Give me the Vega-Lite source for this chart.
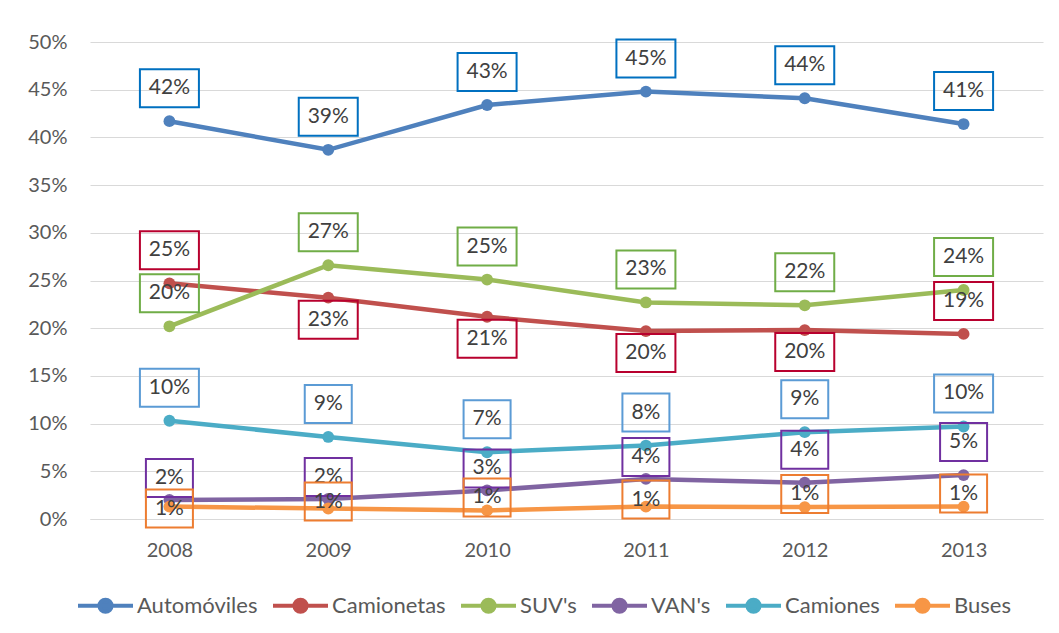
{
  "$schema": "https://vega.github.io/schema/vega-lite/v6.json",
  "width": 953,
  "height": 477,
  "autosize": "none",
  "padding": {"left": 90, "top": 42, "right": 16, "bottom": 114},
  "background": "white",
  "config": {
    "font": "Lato",
    "view": {"stroke": null},
    "text": {"font": "Lato"}
  },
  "data": {
    "values": [
      {"s": "Automóviles", "year": "2008", "v": 0.417},
      {"s": "Automóviles", "year": "2009", "v": 0.387},
      {"s": "Automóviles", "year": "2010", "v": 0.434},
      {"s": "Automóviles", "year": "2011", "v": 0.448},
      {"s": "Automóviles", "year": "2012", "v": 0.441},
      {"s": "Automóviles", "year": "2013", "v": 0.414},
      {"s": "Camionetas", "year": "2008", "v": 0.247},
      {"s": "Camionetas", "year": "2009", "v": 0.232},
      {"s": "Camionetas", "year": "2010", "v": 0.212},
      {"s": "Camionetas", "year": "2011", "v": 0.197},
      {"s": "Camionetas", "year": "2012", "v": 0.198},
      {"s": "Camionetas", "year": "2013", "v": 0.194},
      {"s": "SUV's", "year": "2008", "v": 0.202},
      {"s": "SUV's", "year": "2009", "v": 0.266},
      {"s": "SUV's", "year": "2010", "v": 0.251},
      {"s": "SUV's", "year": "2011", "v": 0.227},
      {"s": "SUV's", "year": "2012", "v": 0.224},
      {"s": "SUV's", "year": "2013", "v": 0.240},
      {"s": "VAN's", "year": "2008", "v": 0.020},
      {"s": "VAN's", "year": "2009", "v": 0.021},
      {"s": "VAN's", "year": "2010", "v": 0.030},
      {"s": "VAN's", "year": "2011", "v": 0.042},
      {"s": "VAN's", "year": "2012", "v": 0.038},
      {"s": "VAN's", "year": "2013", "v": 0.046},
      {"s": "Camiones", "year": "2008", "v": 0.103},
      {"s": "Camiones", "year": "2009", "v": 0.086},
      {"s": "Camiones", "year": "2010", "v": 0.070},
      {"s": "Camiones", "year": "2011", "v": 0.077},
      {"s": "Camiones", "year": "2012", "v": 0.091},
      {"s": "Camiones", "year": "2013", "v": 0.097},
      {"s": "Buses", "year": "2008", "v": 0.013},
      {"s": "Buses", "year": "2009", "v": 0.011},
      {"s": "Buses", "year": "2010", "v": 0.009},
      {"s": "Buses", "year": "2011", "v": 0.013},
      {"s": "Buses", "year": "2012", "v": 0.0125},
      {"s": "Buses", "year": "2013", "v": 0.013}
    ]
  },
  "encoding": {
    "x": {
      "field": "year", "type": "ordinal",
      "scale": {"type": "point", "padding": 0.5},
      "axis": {"title": null, "labelAngle": 0, "ticks": false, "grid": false,
        "domainColor": "#D9D9D9", "domainWidth": 1,
        "labelFont": "Lato", "labelFontSize": 20, "labelColor": "#595959", "labelPadding": 21}
    },
    "y": {
      "field": "v", "type": "quantitative",
      "scale": {"domain": [0, 0.5], "nice": false, "zero": true},
      "axis": {"title": null, "values": [0, 0.05, 0.1, 0.15, 0.2, 0.25, 0.3, 0.35, 0.4, 0.45, 0.5],
        "format": ".0%", "ticks": false, "domain": false,
        "gridColor": "#D9D9D9", "gridWidth": 1,
        "labelFont": "Lato", "labelFontSize": 20, "labelColor": "#595959", "labelPadding": 23}
    }
  },
  "layer": [
    {
      "mark": {"type": "line", "strokeWidth": 4.5},
      "encoding": {
        "color": {
          "field": "s", "type": "nominal",
          "scale": {"domain": ["Automóviles", "Camionetas", "SUV's", "VAN's", "Camiones", "Buses"],
            "range": ["#4F81BD", "#C0504D", "#9BBB59", "#8064A2", "#4BACC6", "#F79646"]},
          "legend": {
            "orient": "none", "legendX": -14, "legendY": 534, "direction": "horizontal",
            "title": null, "padding": 0,
            "symbolType": "M-1,0H1M0.22,0A0.22,0.22 0 1,1 -0.22,0A0.22,0.22 0 1,1 0.22,0Z",
            "symbolSize": 3025, "symbolStrokeWidth": 4,
            "labelFont": "Lato", "labelFontSize": 22, "labelColor": "#595959", "labelOffset": 2,
            "columnPadding": 7,
            "encode": {"symbols": {"update": {
              "fill": {"scale": "color", "field": "value"},
              "stroke": {"scale": "color", "field": "value"},
              "strokeWidth": {"value": 4},
              "opacity": {"value": 1}}}}
          }
        }
      }
    },
    {
      "mark": {"type": "point", "filled": true, "size": 140, "opacity": 1},
      "encoding": {
        "color": {
          "field": "s", "type": "nominal",
          "scale": {"domain": ["Automóviles", "Camionetas", "SUV's", "VAN's", "Camiones", "Buses"],
            "range": ["#4F81BD", "#C0504D", "#9BBB59", "#8064A2", "#4BACC6", "#F79646"]},
          "legend": {
            "orient": "none", "legendX": -14, "legendY": 534, "direction": "horizontal",
            "title": null, "padding": 0,
            "symbolType": "M-1,0H1M0.22,0A0.22,0.22 0 1,1 -0.22,0A0.22,0.22 0 1,1 0.22,0Z",
            "symbolSize": 3025, "symbolStrokeWidth": 4,
            "labelFont": "Lato", "labelFontSize": 22, "labelColor": "#595959", "labelOffset": 2,
            "columnPadding": 7,
            "encode": {"symbols": {"update": {
              "fill": {"scale": "color", "field": "value"},
              "stroke": {"scale": "color", "field": "value"},
              "strokeWidth": {"value": 4},
              "opacity": {"value": 1}}}}
          }
        }
      }
    },
    {
      "transform": [{"filter": "datum.s=='Automóviles' || datum.s==\"SUV's\" || datum.s=='Camiones' || (datum.s=='Camionetas' && (datum.year=='2008' || datum.year=='2013')) || (datum.s==\"VAN's\" && (datum.year=='2012' || datum.year=='2013'))"}],
      "layer": [
        {
          "mark": {"type": "point", "filled": false, "size": 4, "strokeWidth": 2, "opacity": 1, "yOffset": -33},
          "encoding": {
            "stroke": {"field": "s", "type": "nominal", "legend": null,
              "scale": {"domain": ["Automóviles", "Camionetas", "SUV's", "VAN's", "Camiones", "Buses"],
                "range": ["#0070C0", "#B8002E", "#70AD47", "#7030A0", "#5B9BD5", "#ED7D31"]}},
            "shape": {"condition": {"test": "datum.v >= 0.095", "value": "M-29.5,-19H29.5V19H-29.5Z"}, "value": "M-23.5,-19H23.5V19H-23.5Z"}
          }
        },
        {
          "mark": {"type": "text", "fontSize": 21, "color": "#404040", "baseline": "middle", "align": "center", "yOffset": -33},
          "encoding": {"text": {"field": "v", "type": "quantitative", "format": ".0%"}}
        }
      ]
    },
    {
      "transform": [{"filter": "datum.s=='Camionetas' && datum.year>='2009' && datum.year<='2012'"}],
      "layer": [
        {
          "mark": {"type": "point", "filled": false, "size": 4, "strokeWidth": 2, "opacity": 1, "yOffset": 22},
          "encoding": {
            "stroke": {"field": "s", "type": "nominal", "legend": null,
              "scale": {"domain": ["Automóviles", "Camionetas", "SUV's", "VAN's", "Camiones", "Buses"],
                "range": ["#0070C0", "#B8002E", "#70AD47", "#7030A0", "#5B9BD5", "#ED7D31"]}},
            "shape": {"condition": {"test": "datum.v >= 0.095", "value": "M-29.5,-19H29.5V19H-29.5Z"}, "value": "M-23.5,-19H23.5V19H-23.5Z"}
          }
        },
        {
          "mark": {"type": "text", "fontSize": 21, "color": "#404040", "baseline": "middle", "align": "center", "yOffset": 22},
          "encoding": {"text": {"field": "v", "type": "quantitative", "format": ".0%"}}
        }
      ]
    },
    {
      "transform": [{"filter": "datum.s==\"VAN's\" && datum.year<='2011'"}],
      "layer": [
        {
          "mark": {"type": "point", "filled": false, "size": 4, "strokeWidth": 2, "opacity": 1, "yOffset": -22},
          "encoding": {
            "stroke": {"field": "s", "type": "nominal", "legend": null,
              "scale": {"domain": ["Automóviles", "Camionetas", "SUV's", "VAN's", "Camiones", "Buses"],
                "range": ["#0070C0", "#B8002E", "#70AD47", "#7030A0", "#5B9BD5", "#ED7D31"]}},
            "shape": {"condition": {"test": "datum.v >= 0.095", "value": "M-29.5,-19H29.5V19H-29.5Z"}, "value": "M-23.5,-19H23.5V19H-23.5Z"}
          }
        },
        {
          "mark": {"type": "text", "fontSize": 21, "color": "#404040", "baseline": "middle", "align": "center", "yOffset": -22},
          "encoding": {"text": {"field": "v", "type": "quantitative", "format": ".0%"}}
        }
      ]
    },
    {
      "transform": [{"filter": "datum.s=='Buses' && datum.year=='2008'"}],
      "layer": [
        {
          "mark": {"type": "point", "filled": false, "size": 4, "strokeWidth": 2, "opacity": 1, "yOffset": 2},
          "encoding": {
            "stroke": {"field": "s", "type": "nominal", "legend": null,
              "scale": {"domain": ["Automóviles", "Camionetas", "SUV's", "VAN's", "Camiones", "Buses"],
                "range": ["#0070C0", "#B8002E", "#70AD47", "#7030A0", "#5B9BD5", "#ED7D31"]}},
            "shape": {"condition": {"test": "datum.v >= 0.095", "value": "M-29.5,-19H29.5V19H-29.5Z"}, "value": "M-23.5,-19H23.5V19H-23.5Z"}
          }
        },
        {
          "mark": {"type": "text", "fontSize": 21, "color": "#404040", "baseline": "middle", "align": "center", "yOffset": 2},
          "encoding": {"text": {"field": "v", "type": "quantitative", "format": ".0%"}}
        }
      ]
    },
    {
      "transform": [{"filter": "datum.s=='Buses' && (datum.year=='2009' || datum.year=='2011')"}],
      "layer": [
        {
          "mark": {"type": "point", "filled": false, "size": 4, "strokeWidth": 2, "opacity": 1, "yOffset": -7},
          "encoding": {
            "stroke": {"field": "s", "type": "nominal", "legend": null,
              "scale": {"domain": ["Automóviles", "Camionetas", "SUV's", "VAN's", "Camiones", "Buses"],
                "range": ["#0070C0", "#B8002E", "#70AD47", "#7030A0", "#5B9BD5", "#ED7D31"]}},
            "shape": {"condition": {"test": "datum.v >= 0.095", "value": "M-29.5,-19H29.5V19H-29.5Z"}, "value": "M-23.5,-19H23.5V19H-23.5Z"}
          }
        },
        {
          "mark": {"type": "text", "fontSize": 21, "color": "#404040", "baseline": "middle", "align": "center", "yOffset": -7},
          "encoding": {"text": {"field": "v", "type": "quantitative", "format": ".0%"}}
        }
      ]
    },
    {
      "transform": [{"filter": "datum.s=='Buses' && (datum.year=='2010' || datum.year=='2012' || datum.year=='2013')"}],
      "layer": [
        {
          "mark": {"type": "point", "filled": false, "size": 4, "strokeWidth": 2, "opacity": 1, "yOffset": -13},
          "encoding": {
            "stroke": {"field": "s", "type": "nominal", "legend": null,
              "scale": {"domain": ["Automóviles", "Camionetas", "SUV's", "VAN's", "Camiones", "Buses"],
                "range": ["#0070C0", "#B8002E", "#70AD47", "#7030A0", "#5B9BD5", "#ED7D31"]}},
            "shape": {"condition": {"test": "datum.v >= 0.095", "value": "M-29.5,-19H29.5V19H-29.5Z"}, "value": "M-23.5,-19H23.5V19H-23.5Z"}
          }
        },
        {
          "mark": {"type": "text", "fontSize": 21, "color": "#404040", "baseline": "middle", "align": "center", "yOffset": -13},
          "encoding": {"text": {"field": "v", "type": "quantitative", "format": ".0%"}}
        }
      ]
    }
  ]
}
